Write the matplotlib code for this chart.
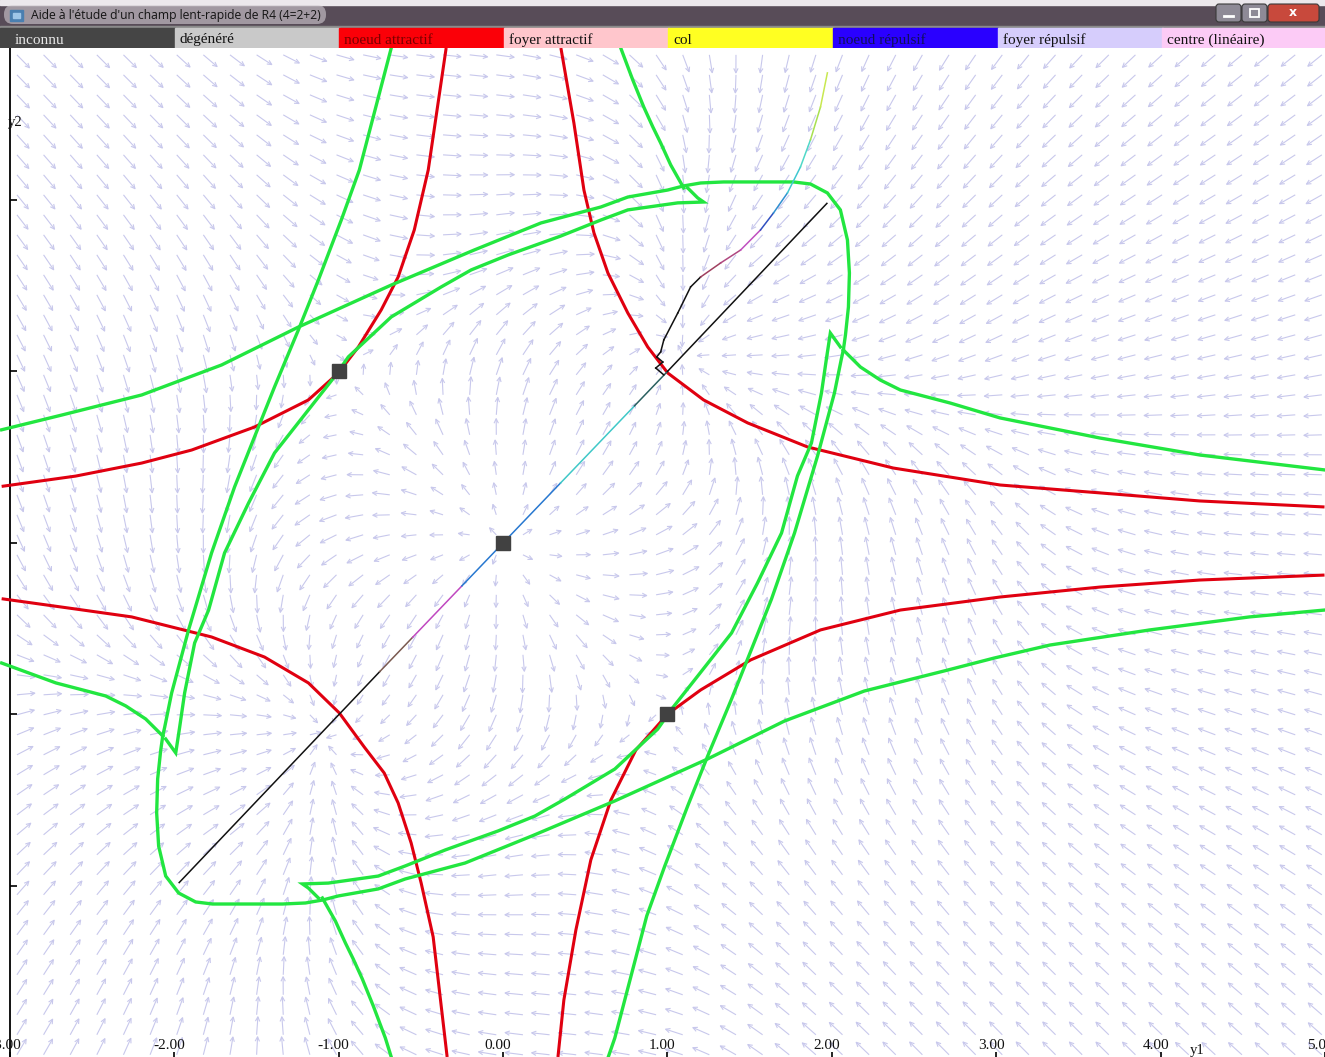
import numpy as np
import matplotlib
matplotlib.use("Agg")
import matplotlib.pyplot as plt
from matplotlib.collections import LineCollection
from matplotlib.patches import Rectangle, FancyBboxPatch
from matplotlib.transforms import offset_copy

# ---------------------------------------------------------------- data
window_title = "Aide à l'étude d'un champ lent-rapide de R4 (4=2+2)"

legend_labels = ["inconnu", "dégénéré", "noeud attractif", "foyer attractif",
                 "col", "noeud répulsif", "foyer répulsif", "centre (linéaire)"]
legend_colors = ["#454545", "#c9c9c9", "#fb0008", "#ffc6cc",
                 "#ffff22", "#2a00ff", "#d6cdfc", "#fccbf6"]
legend_text_colors = ["#e8e8e8", "#111111", "#7a0000", "#111111",
                      "#111111", "#10105a", "#111111", "#111111"]

x_ticks = [-3, -2, -1, 0, 1, 2, 3, 4, 5]
x_tick_labels = ["-3.00", "-2.00", "-1.00", "0.00", "1.00", "2.00", "3.00", "4.00", "5.00"]
y_ticks = [-2, -1, 0, 1, 2]

# singular points of the slow field
sing_y1 = [0.0, -1.0, 1.0]
sing_y2 = [0.0, 1.0, -1.0]

# red curves (four branches)
red_ul_y1 = [-0.346, -0.455, -0.540, -0.638, -0.741, -0.880, -1.002, -1.184, -1.512, -1.894, -2.198, -2.600, -3.050]
red_ul_y2 = [2.886, 2.175, 1.825, 1.551, 1.359, 1.143, 0.991, 0.834, 0.676, 0.542, 0.466, 0.390, 0.330]
red_ll_y1 = [-3.050, -2.600, -2.259, -1.773, -1.451, -1.184, -0.996, -0.844, -0.723, -0.638, -0.559, -0.498, -0.425, -0.340]
red_ll_y2 = [-0.325, -0.385, -0.431, -0.548, -0.665, -0.816, -0.991, -1.190, -1.341, -1.516, -1.749, -1.983, -2.297, -2.997]
red_ur_y1 = [0.352, 0.431, 0.492, 0.553, 0.638, 0.759, 0.880, 1.002, 1.220, 1.488, 1.852, 2.374, 3.024, 3.631, 4.238, 4.997]
red_ur_y2 = [2.886, 2.449, 2.058, 1.808, 1.574, 1.341, 1.143, 0.991, 0.834, 0.700, 0.560, 0.437, 0.338, 0.292, 0.245, 0.210]
red_lr_y1 = [0.334, 0.370, 0.443, 0.534, 0.656, 0.808, 1.002, 1.202, 1.506, 1.931, 2.417, 3.024, 3.631, 4.238, 4.997]
red_lr_y2 = [-2.997, -2.665, -2.257, -1.848, -1.499, -1.207, -0.997, -0.857, -0.682, -0.507, -0.391, -0.315, -0.257, -0.216, -0.187]

# green curves
g_upper_y1 = [-3.050, -2.684, -2.198, -1.712, -1.245, -0.680, -0.176, 0.231, 0.595, 0.759, 1.002, 1.099,
              1.202, 1.342, 1.767, 1.870, 1.973, 2.052, 2.095, 2.107, 2.101, 2.083, 2.070]
g_upper_y2 = [0.660, 0.746, 0.863, 1.038, 1.259, 1.504, 1.708, 1.866, 1.959, 2.017, 2.058, 2.082,
              2.099, 2.105, 2.105, 2.093, 2.041, 1.942, 1.767, 1.574, 1.376, 1.213, 1.125]
g_inner_y1 = [1.123, 1.184, 1.220, 1.063, 0.759, 0.595, 0.352, 0.030, -0.194, -0.376, -0.680, -0.941, -1.026,
              -1.184, -1.390, -1.548, -1.694, -1.791, -1.876, -1.937, -1.967, -1.991, -2.052]
g_inner_y2 = [2.070, 2.012, 1.988, 1.983, 1.942, 1.883, 1.790, 1.679, 1.592, 1.493, 1.318, 1.085, 0.968,
              0.776, 0.525, 0.233, -0.058, -0.391, -0.583, -0.875, -1.073, -1.224, -1.143]
g_steep_y1 = [-0.680, -0.874, -0.984, -1.123, -1.245, -1.390, -1.512, -1.633, -1.773, -1.913, -2.016, -2.058, -2.070]
g_steep_y2 = [2.886, 2.175, 1.883, 1.534, 1.242, 0.910, 0.618, 0.327, -0.058, -0.507, -0.875, -1.073, -1.125]
g_top_y1 = [0.716, 0.789, 0.856, 0.911, 0.959, 1.020, 1.099]
g_top_y2 = [2.886, 2.700, 2.542, 2.426, 2.332, 2.204, 2.070]
g_right_y1 = [2.070, 2.174, 2.295, 2.417, 2.720, 3.024, 3.631, 4.238, 4.997]
g_right_y2 = [1.125, 1.026, 0.950, 0.892, 0.816, 0.729, 0.612, 0.513, 0.426]

g_lower_y1 = [4.997, 4.541, 3.934, 3.327, 2.987, 2.684, 2.198, 1.712, 1.245, 0.680, 0.176, -0.231, -0.595, -0.759,
              -1.002, -1.099, -1.202, -1.342, -1.767, -1.870, -1.973, -2.052, -2.095, -2.107, -2.101, -2.083, -2.070]
g_lower_y2 = [-0.391, -0.431, -0.507, -0.595, -0.671, -0.746, -0.863, -1.038, -1.259, -1.504, -1.708, -1.866, -1.959, -2.017,
              -2.058, -2.082, -2.099, -2.105, -2.105, -2.093, -2.041, -1.942, -1.767, -1.574, -1.376, -1.213, -1.125]
g_inner2_y1 = [-1.123, -1.184, -1.220, -1.063, -0.759, -0.595, -0.352, -0.030, 0.194, 0.376, 0.680, 0.941, 1.026,
               1.184, 1.390, 1.548, 1.694, 1.791, 1.876, 1.937, 1.967, 1.991, 2.052]
g_inner2_y2 = [-2.070, -2.012, -1.988, -1.983, -1.942, -1.883, -1.790, -1.679, -1.592, -1.493, -1.318, -1.085, -0.968,
               -0.776, -0.525, -0.233, 0.058, 0.391, 0.583, 0.875, 1.073, 1.224, 1.143]
g_steep2_y1 = [0.640, 0.680, 0.874, 0.984, 1.123, 1.245, 1.390, 1.512, 1.633, 1.773, 1.913, 2.016, 2.058, 2.070]
g_steep2_y2 = [-2.997, -2.886, -2.175, -1.883, -1.534, -1.242, -0.910, -0.618, -0.327, 0.058, 0.507, 0.875, 1.073, 1.125]
g_bottom_y1 = [-0.680, -0.716, -0.789, -0.856, -0.911, -0.959, -1.020, -1.099]
g_bottom_y2 = [-2.997, -2.886, -2.700, -2.542, -2.426, -2.332, -2.204, -2.070]
g_left_y1 = [-2.070, -2.174, -2.295, -2.417, -2.720, -3.050]
g_left_y2 = [-1.125, -1.026, -0.950, -0.892, -0.816, -0.700]

# trajectories
diag_y1 = [-1.97, -0.75, -0.55, -0.25, 0.35, 0.80, 1.00, 1.97]
diag_y2 = [-1.98, -0.75, -0.55, -0.25, 0.35, 0.80, 1.00, 1.98]
diag_colors = ["#111111", "#7a5a50", "#c048c0", "#2878d0", "#40c8c8", "#2a6060", "#111111"]

traj_y1 = [0.978, 0.929, 0.972, 0.935, 0.959, 0.978, 1.063, 1.141, 1.202, 1.324, 1.445, 1.566, 1.645,
           1.730, 1.809, 1.870, 1.931, 1.973, 1.991]
traj_y2 = [0.980, 1.020, 1.055, 1.085, 1.114, 1.184, 1.341, 1.493, 1.551, 1.633, 1.708, 1.825, 1.924,
           2.041, 2.192, 2.350, 2.542, 2.741, 2.886]
traj_colors = ["#111111"] * 8 + ["#a04060", "#b04880", "#c050c0", "#3050c0", "#3090d0", "#40c8d0",
                                 "#50d8c8", "#a8e050", "#c8e850"]

# direction of the slow field (degrees) sampled on a coarse lattice
field_y1 = [-2.9, -2.3, -1.7, -1.0, -0.5, 0.0, 0.5, 1.0, 1.7, 2.3, 2.9, 3.7, 4.6]
field_y2 = [2.7, 2.1, 1.5, 1.0, 0.5, 0.0, -0.5, -1.0, -1.5, -2.1, -2.7]
nan = float("nan")
field_angle = [
    [-45, -45, -40, -15, 0, -10, -10, -75, -100, -115, -125, -135, -140],
    [-50, -50, -50, -30, 0, 5, 0, -100, -130, -125, -135, -145, -150],
    [-55, -60, -65, -40, -8, 40, 10, -90, -165, -145, -145, -155, -158],
    [-65, -75, -85, nan, 85, 90, 30, nan, 180, -160, -150, -165, -168],
    [-70, -80, -95, -155, 140, 95, 60, 95, 120, 115, 140, 168, 175],
    [-65, -80, -100, 185, 180, nan, 0, 5, 80, 100, 115, 160, 178],
    [-40, -65, -60, -85, -120, -85, -40, 25, 85, 100, 110, 168, 172],
    [30, 20, 0, nan, -150, -90, -95, nan, 95, 105, 115, 158, 163],
    [35, 35, 15, 90, -170, -140, 172, 140, 115, 120, 125, 148, 153],
    [50, 55, 50, 80, 180, -175, 180, 150, 130, 130, 130, 140, 145],
    [58, 65, 80, 105, 170, 170, 180, 165, 140, 135, 135, 135, 138],
]


# ---------------------------------------------------------------- figure
W, H = 1325, 1057
fig = plt.figure(figsize=(W / 100, H / 100), dpi=100)
fig.patch.set_facecolor("white")

TOP = 48  # height of window chrome in pixels
ax = fig.add_axes([0, 0, 1, (H - TOP) / H])
XL = (-3.06, 4.99)
YL = (-2.997, 2.886)
ax.set_xlim(*XL)
ax.set_ylim(*YL)
ax.set_facecolor("white")
for s in ["top", "right"]:
    ax.spines[s].set_visible(False)
ax.spines["left"].set_position(("data", -3.0))
ax.spines["bottom"].set_position(("data", -3.0))
ax.spines["left"].set_linewidth(1.3)
ax.spines["bottom"].set_linewidth(1.3)
ax.set_yticks(y_ticks)
ax.set_yticklabels([])
ax.set_xticks(x_ticks)
ax.set_xticklabels([])
ax.tick_params(axis="y", direction="in", length=5, width=1.2, color="black")
ax.tick_params(axis="x", direction="in", length=4, width=1.2, color="black")

serif = ["Liberation Serif", "DejaVu Serif"]
lab_tr = offset_copy(ax.transData, fig=fig, x=-5, y=0, units="dots")
for t, s in zip(x_ticks, x_tick_labels):
    ax.text(t, -2.952, s, transform=lab_tr, ha="center", va="baseline",
            fontsize=11, family=serif, color="#111111", clip_on=False)
ax.text(-3.012, 2.449, "y2", ha="left", va="center", fontsize=10.5, family=serif, color="#111111")
ax.text(4.22, -2.962, "y1", ha="center", va="center", fontsize=10.5, family=serif, color="#111111")

# ---- arrow field on a regular grid
sx = 1325 / (XL[1] - XL[0])  # px per unit
sy = 1009 / (YL[1] - YL[0])
gx = -2.957 + 0.162 * np.arange(50)
gy = 2.846 - 0.1166 * np.arange(51)
GX, GY = np.meshgrid(gx, gy)

SX, SY = np.meshgrid(np.array(field_y1), np.array(field_y2))
SA = np.radians(np.array(field_angle, dtype=float))
ok = np.isfinite(SA)
sxs, sys_, sa = SX[ok], SY[ok], SA[ok]
dx = (GX[..., None] - sxs) / 0.42
dy = (GY[..., None] - sys_) / 0.36
wgt = np.exp(-0.5 * (dx ** 2 + dy ** 2))
vx = (wgt * np.cos(sa)).sum(-1)
vy = (wgt * np.sin(sa)).sum(-1)
nrm = np.hypot(vx, vy) + 1e-12
ux, uy = vx / nrm, vy / nrm

# arrows are shorter close to the singular points
dmin = np.min(np.stack([np.hypot(GX - a, GY - b) for a, b in
                        [(0, 0), (1, 1), (-1, -1), (1, -1), (-1, 1)]]), axis=0)
L = 9.0 + 9.0 * np.clip(dmin / 0.8, 0, 1)
ex, ey = ux * L, uy * L
hl, ha = 5.0, 0.45
hx1 = ex - hl * (ux * np.cos(ha) - uy * np.sin(ha))
hy1 = ey - hl * (uy * np.cos(ha) + ux * np.sin(ha))
hx2 = ex - hl * (ux * np.cos(-ha) - uy * np.sin(-ha))
hy2 = ey - hl * (uy * np.cos(-ha) + ux * np.sin(-ha))
segs = []
for x0, y0, a, b, c, d, e, f in zip(GX.ravel(), GY.ravel(), ex.ravel(), ey.ravel(),
                                    hx1.ravel(), hy1.ravel(), hx2.ravel(), hy2.ravel()):
    tip = (x0 + a / sx, y0 + b / sy)
    segs.append([(x0, y0), tip])
    segs.append([(x0 + c / sx, y0 + d / sy), tip, (x0 + e / sx, y0 + f / sy)])
ax.add_collection(LineCollection(segs, colors="#c8c8ec", linewidths=0.8, zorder=1))

# ---- red curves
for xs, ys in [(red_ul_y1, red_ul_y2), (red_ll_y1, red_ll_y2),
               (red_ur_y1, red_ur_y2), (red_lr_y1, red_lr_y2)]:
    ax.plot(xs, ys, color="#e00010", lw=2.2, zorder=3, solid_capstyle="butt")

# ---- green curves
for xs, ys in [(g_upper_y1, g_upper_y2), (g_inner_y1, g_inner_y2), (g_steep_y1, g_steep_y2),
               (g_top_y1, g_top_y2), (g_right_y1, g_right_y2), (g_lower_y1, g_lower_y2),
               (g_inner2_y1, g_inner2_y2), (g_steep2_y1, g_steep2_y2),
               (g_bottom_y1, g_bottom_y2), (g_left_y1, g_left_y2)]:
    ax.plot(xs, ys, color="#22e640", lw=2.4, zorder=4, solid_joinstyle="miter")

# ---- trajectories
for i, c in enumerate(diag_colors):
    ax.plot(diag_y1[i:i + 2], diag_y2[i:i + 2], color=c, lw=1.1, zorder=5)
for i, c in enumerate(traj_colors[:len(traj_y1) - 1]):
    ax.plot(traj_y1[i:i + 2], traj_y2[i:i + 2], color=c, lw=1.1, zorder=5)

ax.plot(sing_y1, sing_y2, ls="none", marker="s", ms=9.4, color="#414141", zorder=6)

# ---------------------------------------------------------------- window chrome
cax = fig.add_axes([0, (H - TOP) / H, 1, TOP / H])
cax.set_xlim(0, W)
cax.set_ylim(TOP, 0)
cax.axis("off")
cax.add_patch(Rectangle((0, 0), W, 28, color="#584c58", zorder=0))
cax.add_patch(Rectangle((0, 0), W, 5, color="#ece8ec", zorder=0))
cax.add_patch(FancyBboxPatch((4, 5), 322, 19, boxstyle="round,pad=0,rounding_size=9",
                             fc="#d2ccd2", ec="none", alpha=0.6, zorder=1))
cax.add_patch(Rectangle((10, 10), 13, 11, color="#4a7fb0", zorder=2))
cax.add_patch(Rectangle((13, 13), 7, 5, color="#9ec6e8", zorder=3))
cax.text(31, 16, window_title, fontsize=8.7, family=["Open Sans", "DejaVu Sans"],
         color="#141414", va="center", ha="left", zorder=3)
# caption buttons
cax.add_patch(FancyBboxPatch((1216, 4), 25, 18, boxstyle="round,pad=0,rounding_size=3",
                             fc="#8e8a96", ec="#3a3a3a", lw=0.8, zorder=2))
cax.add_patch(FancyBboxPatch((1242, 4), 25, 18, boxstyle="round,pad=0,rounding_size=3",
                             fc="#8e8a96", ec="#3a3a3a", lw=0.8, zorder=2))
cax.add_patch(FancyBboxPatch((1268, 4), 51, 18, boxstyle="round,pad=0,rounding_size=3",
                             fc="#c8493c", ec="#3a3a3a", lw=0.8, zorder=2))
cax.plot([1224, 1233], [16, 16], color="white", lw=2, zorder=3)
cax.add_patch(Rectangle((1250, 9), 9, 8, fc="none", ec="white", lw=1.3, zorder=3))
cax.text(1293, 12.5, "x", fontsize=9, color="white", fontweight="bold",
         ha="center", va="center", zorder=3)
cax.add_patch(Rectangle((0, 26), W, 2, color="#8a8a8a", zorder=1))

# legend strip of the fast-equilibrium types
cell = 164.6
x0 = 10
cax.add_patch(Rectangle((0, 28), 10, 20, color="#454545", zorder=1))
for i, (lab, col, tcol) in enumerate(zip(legend_labels, legend_colors, legend_text_colors)):
    cax.add_patch(Rectangle((x0 + i * cell, 28), cell + 0.5, 20, color=col, zorder=1))
    cax.text(x0 + i * cell + 5, 40, lab, fontsize=11, family=serif, color=tcol,
             va="center", ha="left", zorder=2)

fig.savefig("out.png", dpi=100)
